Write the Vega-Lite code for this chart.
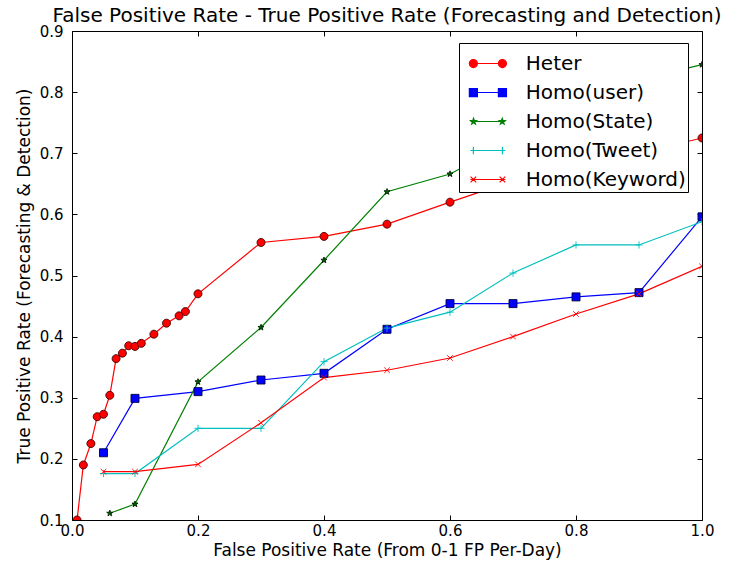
{
  "$schema": "https://vega.github.io/schema/vega-lite/v6.json",
  "width": 630,
  "height": 489,
  "autosize": {"type": "none"},
  "padding": {"left": 72, "top": 31, "right": 29, "bottom": 44},
  "title": {"text": "False Positive Rate - True Positive Rate (Forecasting and Detection)", "font": "DejaVu Sans", "fontSize": 20, "fontWeight": "normal", "color": "#000000", "offset": -2, "anchor": "middle"},
  "data": {"values": [
    {"s": "Heter", "x": 0.008, "y": 0.1},
    {"s": "Heter", "x": 0.018, "y": 0.19},
    {"s": "Heter", "x": 0.03, "y": 0.225},
    {"s": "Heter", "x": 0.04, "y": 0.269},
    {"s": "Heter", "x": 0.05, "y": 0.273},
    {"s": "Heter", "x": 0.06, "y": 0.304},
    {"s": "Heter", "x": 0.07, "y": 0.364},
    {"s": "Heter", "x": 0.08, "y": 0.373},
    {"s": "Heter", "x": 0.09, "y": 0.385},
    {"s": "Heter", "x": 0.1, "y": 0.384},
    {"s": "Heter", "x": 0.11, "y": 0.389},
    {"s": "Heter", "x": 0.13, "y": 0.404},
    {"s": "Heter", "x": 0.15, "y": 0.422},
    {"s": "Heter", "x": 0.17, "y": 0.434},
    {"s": "Heter", "x": 0.18, "y": 0.441},
    {"s": "Heter", "x": 0.2, "y": 0.47},
    {"s": "Heter", "x": 0.3, "y": 0.554},
    {"s": "Heter", "x": 0.4, "y": 0.564},
    {"s": "Heter", "x": 0.5, "y": 0.584},
    {"s": "Heter", "x": 0.6, "y": 0.62},
    {"s": "Heter", "x": 0.7, "y": 0.655},
    {"s": "Heter", "x": 0.8, "y": 0.68},
    {"s": "Heter", "x": 0.9, "y": 0.7},
    {"s": "Heter", "x": 1.0, "y": 0.725},
    {"s": "Homo(user)", "x": 0.05, "y": 0.21},
    {"s": "Homo(user)", "x": 0.1, "y": 0.299},
    {"s": "Homo(user)", "x": 0.2, "y": 0.31},
    {"s": "Homo(user)", "x": 0.3, "y": 0.329},
    {"s": "Homo(user)", "x": 0.4, "y": 0.34},
    {"s": "Homo(user)", "x": 0.5, "y": 0.412},
    {"s": "Homo(user)", "x": 0.6, "y": 0.454},
    {"s": "Homo(user)", "x": 0.7, "y": 0.454},
    {"s": "Homo(user)", "x": 0.8, "y": 0.465},
    {"s": "Homo(user)", "x": 0.9, "y": 0.472},
    {"s": "Homo(user)", "x": 1.0, "y": 0.596},
    {"s": "Homo(State)", "x": 0.06, "y": 0.111},
    {"s": "Homo(State)", "x": 0.1, "y": 0.126},
    {"s": "Homo(State)", "x": 0.2, "y": 0.326},
    {"s": "Homo(State)", "x": 0.3, "y": 0.415},
    {"s": "Homo(State)", "x": 0.4, "y": 0.525},
    {"s": "Homo(State)", "x": 0.5, "y": 0.637},
    {"s": "Homo(State)", "x": 0.6, "y": 0.666},
    {"s": "Homo(State)", "x": 0.7, "y": 0.72},
    {"s": "Homo(State)", "x": 0.8, "y": 0.77},
    {"s": "Homo(State)", "x": 0.9, "y": 0.82},
    {"s": "Homo(State)", "x": 1.0, "y": 0.845},
    {"s": "Homo(Tweet)", "x": 0.05, "y": 0.176},
    {"s": "Homo(Tweet)", "x": 0.1, "y": 0.176},
    {"s": "Homo(Tweet)", "x": 0.2, "y": 0.25},
    {"s": "Homo(Tweet)", "x": 0.3, "y": 0.25},
    {"s": "Homo(Tweet)", "x": 0.4, "y": 0.359},
    {"s": "Homo(Tweet)", "x": 0.5, "y": 0.414},
    {"s": "Homo(Tweet)", "x": 0.6, "y": 0.44},
    {"s": "Homo(Tweet)", "x": 0.7, "y": 0.504},
    {"s": "Homo(Tweet)", "x": 0.8, "y": 0.55},
    {"s": "Homo(Tweet)", "x": 0.9, "y": 0.55},
    {"s": "Homo(Tweet)", "x": 1.0, "y": 0.588},
    {"s": "Homo(Keyword)", "x": 0.05, "y": 0.179},
    {"s": "Homo(Keyword)", "x": 0.1, "y": 0.179},
    {"s": "Homo(Keyword)", "x": 0.2, "y": 0.191},
    {"s": "Homo(Keyword)", "x": 0.3, "y": 0.259},
    {"s": "Homo(Keyword)", "x": 0.4, "y": 0.333},
    {"s": "Homo(Keyword)", "x": 0.5, "y": 0.345},
    {"s": "Homo(Keyword)", "x": 0.6, "y": 0.365},
    {"s": "Homo(Keyword)", "x": 0.7, "y": 0.4},
    {"s": "Homo(Keyword)", "x": 0.8, "y": 0.437},
    {"s": "Homo(Keyword)", "x": 0.9, "y": 0.47},
    {"s": "Homo(Keyword)", "x": 1.0, "y": 0.515}
  ]},
  "encoding": {
    "x": {"field": "x", "type": "quantitative", "scale": {"domain": [0, 1], "nice": false, "zero": false}},
    "y": {"field": "y", "type": "quantitative", "scale": {"domain": [0.1, 0.9], "nice": false, "zero": false}}
  },
  "layer": [
    {
      "mark": {"type": "line", "strokeWidth": 1.2, "clip": true},
      "encoding": {
        "x": {"field": "x", "type": "quantitative", "axis": {"orient": "bottom", "values": [0, 0.2, 0.4, 0.6, 0.8, 1.0], "format": ".1f", "labelPadding": 8, "title": "False Positive Rate (From 0-1 FP Per-Day)", "titlePadding": 4}},
        "y": {"field": "y", "type": "quantitative", "axis": {"orient": "left", "values": [0.1, 0.2, 0.3, 0.4, 0.5, 0.6, 0.7, 0.8, 0.9], "format": ".1f", "labelPadding": 14, "title": "True Positive Rate (Forecasting & Detection)", "titlePadding": 5.5}},
        "color": {"field": "s", "type": "nominal", "legend": null, "scale": {"domain": ["Heter", "Homo(user)", "Homo(State)", "Homo(Tweet)", "Homo(Keyword)"], "range": ["#ff0000", "#0000ff", "#008000", "#00bfbf", "#ff0000"]}}
      }
    },
    {
      "mark": {"type": "point", "filled": true, "size": 64, "strokeWidth": 0.9, "opacity": 1, "clip": true},
      "encoding": {
        "x": {"field": "x", "type": "quantitative", "axis": {"orient": "top", "values": [0, 0.2, 0.4, 0.6, 0.8, 1.0], "labels": false, "title": null, "labelPadding": 0, "minExtent": 0, "maxExtent": 0}},
        "y": {"field": "y", "type": "quantitative", "axis": {"orient": "right", "values": [0.1, 0.2, 0.3, 0.4, 0.5, 0.6, 0.7, 0.8, 0.9], "labels": false, "title": null, "labelPadding": 0, "minExtent": 0, "maxExtent": 0}},
        "shape": {"field": "s", "type": "nominal", "legend": null, "scale": {"domain": ["Heter", "Homo(user)", "Homo(State)", "Homo(Tweet)", "Homo(Keyword)"], "range": [
          "M-1,0A1,1,0,1,1,1,0A1,1,0,1,1,-1,0Z",
          "M-1,-1H1V1H-1Z",
          "M0,-0.8L0.188,-0.259L0.761,-0.247L0.304,0.099L0.47,0.647L0,0.32L-0.47,0.647L-0.304,0.099L-0.761,-0.247L-0.188,-0.259Z",
          "M-0.9,0H0.9M0,-0.9V0.9",
          "M-0.7,-0.7L0.7,0.7M-0.7,0.7L0.7,-0.7"
        ]}},
        "fill": {"field": "s", "type": "nominal", "legend": null, "scale": {"domain": ["Heter", "Homo(user)", "Homo(State)", "Homo(Tweet)", "Homo(Keyword)"], "range": ["#ff0000", "#0000ff", "#006000", "transparent", "transparent"]}},
        "stroke": {"field": "s", "type": "nominal", "legend": null, "scale": {"domain": ["Heter", "Homo(user)", "Homo(State)", "Homo(Tweet)", "Homo(Keyword)"], "range": ["#400000", "#000040", "#002000", "#00bfbf", "#ff0000"]}}
      }
    },
    {
      "transform": [{"filter": "datum.x > 5"}],
      "mark": {"type": "point", "filled": true, "opacity": 1},
      "encoding": {
        "x": {"field": "x", "type": "quantitative", "axis": null},
        "y": {"field": "y", "type": "quantitative", "axis": null},
        "shape": {"field": "s", "type": "nominal", "title": null, "scale": {"domain": ["Heter", "Homo(user)", "Homo(State)", "Homo(Tweet)", "Homo(Keyword)"], "range": [
          "M-1,0H1M-1.06,0A0.23,0.23,0,1,1,-0.6,0A0.23,0.23,0,1,1,-1.06,0ZM0.6,0A0.23,0.23,0,1,1,1.06,0A0.23,0.23,0,1,1,0.6,0Z",
          "M-1,0H1M-1.06,-0.23H-0.6V0.23H-1.06ZM0.6,-0.23H1.06V0.23H0.6Z",
          "M-1,0H1M-0.82,-0.18L-0.778,-0.058L-0.649,-0.056L-0.752,0.022L-0.714,0.146L-0.82,0.072L-0.926,0.146L-0.888,0.022L-0.991,-0.056L-0.862,-0.058ZM0.82,-0.18L0.862,-0.058L0.991,-0.056L0.888,0.022L0.926,0.146L0.82,0.072L0.714,0.146L0.752,0.022L0.649,-0.056L0.778,-0.058Z",
          "M-1,0H1M-0.83,-0.21V0.21M0.83,-0.21V0.21",
          "M-1,0H1M-0.99,-0.16L-0.67,0.16M-0.99,0.16L-0.67,-0.16M0.67,-0.16L0.99,0.16M0.67,0.16L0.99,-0.16"
        ]}},
        "fill": {"field": "s", "type": "nominal", "title": null, "scale": {"domain": ["Heter", "Homo(user)", "Homo(State)", "Homo(Tweet)", "Homo(Keyword)"], "range": ["#ff0000", "#0000ff", "#006000", "transparent", "transparent"]}},
        "stroke": {"field": "s", "type": "nominal", "title": null, "scale": {"domain": ["Heter", "Homo(user)", "Homo(State)", "Homo(Tweet)", "Homo(Keyword)"], "range": ["#ff0000", "#0000ff", "#008000", "#00bfbf", "#ff0000"]}}
      }
    }
  ],
  "resolve": {
    "scale": {"shape": "independent", "fill": "independent", "stroke": "independent"},
    "axis": {"x": "independent", "y": "independent"}
  },
  "config": {
    "view": {"stroke": "#000000", "strokeWidth": 1},
    "axis": {
      "grid": false,
      "domain": false,
      "labelFlush": false,
      "labelOverlap": false,
      "tickColor": "#000000",
      "tickSize": -5,
      "tickWidth": 1,
      "labelFont": "DejaVu Sans",
      "labelFontSize": 15,
      "labelColor": "#000000",
      "titleFont": "DejaVu Sans",
      "titleFontSize": 17,
      "titleFontWeight": "normal",
      "titleColor": "#000000"
    },
    "legend": {
      "orient": "none",
      "legendX": 387,
      "legendY": 12,
      "symbolSize": 1225,
      "symbolStrokeWidth": 1.2,
      "symbolOffset": 8.4,
      "labelFont": "DejaVu Sans",
      "labelFontSize": 20,
      "labelLimit": 400,
      "labelColor": "#000000",
      "labelOffset": 19.4,
      "padding": 2,
      "rowPadding": 0,
      "strokeColor": "#000000",
      "fillColor": "#ffffff",
      "cornerRadius": 0
    }
  }
}
